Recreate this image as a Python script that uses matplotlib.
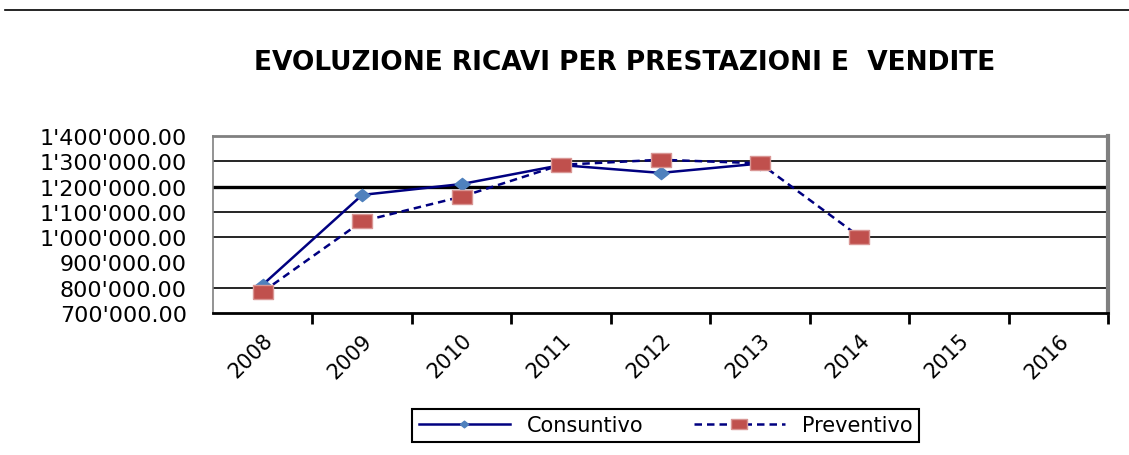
import matplotlib.pyplot as plt
from matplotlib.ticker import FuncFormatter

years = ["2008", "2009", "2010", "2011", "2012", "2013", "2014", "2015", "2016"]
consuntivo = [812000, 1167000, 1210000, 1285000, 1254000, 1291000]
preventivo = [784000, 1063000, 1160000, 1286000, 1306000, 1292000, 1002000]
y_ticks = [700000, 800000, 900000, 1000000, 1100000, 1200000, 1300000, 1400000]
grid_vals = [800000, 1000000, 1100000, 1300000]


def fmt(v, pos=None):
	s = f"{int(round(v)):,}".replace(",", "'")
	return s + ".00"


# wide markers, like the stretched excel picture
wide_square = [(-1.45, -1), (1.45, -1), (1.45, 1), (-1.45, 1), (-1.45, -1)]
wide_diamond = [(-1.25, 0), (0, 1), (1.25, 0), (0, -1), (-1.25, 0)]

fig = plt.figure(figsize=(11.29, 4.56), dpi=100)
ax = fig.add_axes([0.1887, 0.3114, 0.9814 - 0.1887, 0.6996 - 0.3114])

# gridlines (the 1.2M one is drawn heavier in the original)
for g in grid_vals:
	ax.axhline(g, color="black", lw=1.2, zorder=1)
ax.axhline(1200000, color="black", lw=2.4, zorder=1)

x_c = list(range(len(consuntivo)))
x_p = list(range(len(preventivo)))
ax.plot(x_c, consuntivo, color="#000080", lw=1.8, marker=wide_diamond, markersize=11,
	markerfacecolor="#4F81BD", markeredgecolor="#4F81BD", label="Consuntivo", zorder=3)
ax.plot(x_p, preventivo, color="#000080", lw=1.8, ls=(0, (3, 2)), marker=wide_square, markersize=14,
	markerfacecolor="#C0504D", markeredgecolor="#D99694", label="Preventivo", zorder=4)

ax.set_xlim(-0.5, len(years) - 0.5)
ax.set_ylim(700000, 1400000)

ax.set_yticks(y_ticks)
ax.yaxis.set_major_formatter(FuncFormatter(fmt))
ax.set_yticks(grid_vals + [700000, 1200000, 1400000], minor=True)
ax.tick_params(axis="y", which="major", length=0, pad=19, labelsize=16)
ax.tick_params(axis="y", which="minor", length=7, width=1.2, color="black")

ax.set_xticks(range(len(years)))
ax.set_xticklabels(years, rotation=45, ha="right", rotation_mode="anchor", fontsize=15)
ax.set_xticks([i + 0.5 for i in range(len(years))], minor=True)
ax.tick_params(axis="x", which="major", length=0, pad=12)
ax.tick_params(axis="x", which="minor", length=8, width=2, color="black")

ax.spines["left"].set_color("#808080")
ax.spines["left"].set_linewidth(1.2)
ax.spines["bottom"].set_color("black")
ax.spines["bottom"].set_linewidth(2)
ax.spines["top"].set_color("#808080")
ax.spines["top"].set_linewidth(2)
ax.spines["right"].set_color("#808080")
ax.spines["right"].set_linewidth(3)

fig.text(0.5536, 0.862, "EVOLUZIONE RICAVI PER PRESTAZIONI E  VENDITE",
	ha="center", va="center", fontsize=19, fontweight="bold")

fig.add_artist(plt.Line2D([5 / 1129, 1], [0.976, 0.976], color="black", lw=1.2))

leg = fig.legend(loc="center", bbox_to_anchor=(0.5895, 0.0647), ncol=2, fontsize=15,
	frameon=True, fancybox=False, edgecolor="black", framealpha=1,
	handlelength=4.4, columnspacing=2.4, borderpad=0.3)
leg.get_frame().set_linewidth(1.5)
leg.legend_handles[0].set_markersize(6)
leg.legend_handles[1].set_markersize(11)

fig.savefig("out.png", dpi=100)
